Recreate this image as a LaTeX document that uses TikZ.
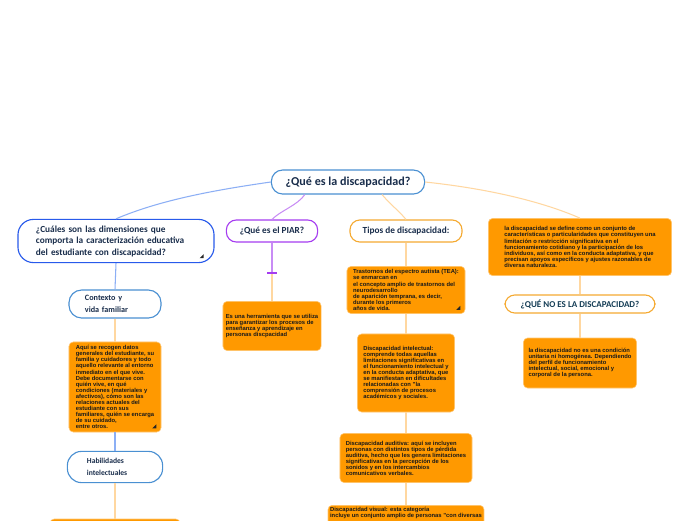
\documentclass[tikz,border=0pt]{standalone}
\usepackage{fontspec}
\setmainfont{Liberation Sans}
\newfontfamily\headfont{Carlito}
\usetikzlibrary{calc}
\begin{document}
\begin{tikzpicture}[
  x=0.025cm, y=-0.025cm,
  topic/.style={draw=#1, line width=0.8pt, fill=white, rounded corners=7pt, text=headink, inner sep=2pt},
  head/.style={font=\headfont\bfseries\fontsize{6.6}{8.2}\selectfont},
  note/.style={fill=kfill, draw=kfill!55!white, line width=0.4pt, rounded corners=3pt,
    text=black!90, align=left, inner sep=2pt, font=\bfseries\fontsize{4.15}{4.3}\selectfont},
  link/.style={draw=#1, line width=0.75pt},
  foldmark/.style={fill=black!85}
]
\definecolor{hblue}{RGB}{74,144,210}
\definecolor{dblue}{RGB}{40,90,235}
\definecolor{kpurp}{RGB}{165,60,240}
\definecolor{kora}{RGB}{245,170,50}
\definecolor{kfill}{RGB}{255,153,0}
\definecolor{lblue}{RGB}{140,175,245}
\definecolor{lpurp}{RGB}{200,140,245}
\definecolor{lpeach}{RGB}{255,215,160}
\definecolor{headink}{RGB}{25,45,75}

\fill[white] (0,0) rectangle (696,520);
\useasboundingbox (0,0) rectangle (696,520);
\clip (0,0) rectangle (696,520);

% main question
\node[topic=hblue, minimum width=3.83cm, minimum height=0.6cm, rounded corners=8pt,
  font=\headfont\bfseries\fontsize{8.6}{10}\selectfont] (root) at (348,182) {¿Qué es la discapacidad?};

% first level
\node[topic=dblue, head, minimum width=4.9cm, minimum height=1.08cm, rounded corners=11pt,
  align=left, text width=4.0cm] (dims) at (116,241)
  {¿Cuáles son las dimensiones que\\comporta la caracterización educativa\\del estudiante con discapacidad?};
\node[topic=kpurp, head, minimum width=2.28cm, minimum height=0.55cm] (piar) at (272,231) {¿Qué es el PIAR?};
\node[topic=kora, head, minimum width=2.8cm, minimum height=0.55cm] (tipos) at (406,231) {Tipos de discapacidad:};
\node[note, minimum width=4.58cm, minimum height=1.43cm] (defbox) at (580,247)
  { la discapacidad se define como un conjunto de\\características o particularidades que constituyen una\\limitación o restricción significativa en el\\funcionamiento cotidiano y la participación de los\\individuos, así como en la conducta adaptativa, y que\\precisan apoyos específicos y ajustes razonables de\\diversa naturaleza.};

% dimensiones
\node[topic=hblue, minimum width=2.3cm, minimum height=0.7cm, rounded corners=9pt, align=left,
  text width=1.5cm, font=\headfont\bfseries\fontsize{5.8}{8.5}\selectfont] (ctx) at (115,304) {Contexto y\\vida familiar};
\node[note, minimum width=2.3cm, minimum height=2.25cm] (ctxtext) at (115,387)
  {Aquí se recogen datos\\generales del estudiante, su\\familia y cuidadores y todo\\aquello relevante al entorno\\inmediato en el que vive.\\Debe documentarse con\\quién vive, en qué\\condiciones (materiales y\\afectivos), cómo son las\\relaciones actuales del\\estudiante con sus\\familiares, quién se encarga\\de su cuidado,\\entre otros.};
\node[topic=hblue, minimum width=2.38cm, minimum height=0.78cm, rounded corners=10pt, align=left,
  text width=1.4cm, font=\headfont\bfseries\fontsize{5.4}{8.5}\selectfont] (habil) at (115,467) {Habilidades\\intelectuales};
\node[note, minimum width=3.25cm, minimum height=1.1cm] (habiltext) at (115,541) {};

% PIAR
\coordinate (piarjoin) at (272,273);
\node[note, minimum width=2.38cm, minimum height=1.23cm] (piartext) at (272,326)
  {Es una herramienta que se utiliza\\para  garantizar los procesos de\\enseñanza y aprendizaje  en\\personas discpacidad};

% tipos
\node[note, minimum width=2.95cm, minimum height=1.18cm] (tea) at (406,290)
  {Trastornos del espectro autista (TEA):\\se enmarcan en\\el concepto amplio de trastornos del\\neurodesarrollo\\de aparición temprana, es decir,\\durante los primeros\\años de vida.};
\node[note, minimum width=2.43cm, minimum height=1.95cm] (intel) at (406,373)
  {Discapacidad intelectual:\\comprende todas aquellas\\limitaciones significativas en\\el funcionamiento intelectual y\\en la conducta adaptativa, que\\se manifiestan en dificultades\\relacionadas con "la\\comprensión de procesos\\académicos y sociales.};
\node[note, minimum width=3.3cm, minimum height=1.23cm] (audit) at (406,458)
  { Discapacidad auditiva: aquí se incluyen\\personas con distintos tipos de pérdida\\auditiva, hecho que les genera limitaciones\\significativas en la percepción de los\\sonidos y en los intercambios\\comunicativos  verbales.};
\node[note, minimum width=3.8cm, anchor=north, inner sep=1.5pt, text depth=20pt] (visual) at (406,505)
  {Discapacidad visual: esta categoría\\incluye un conjunto amplio de personas "con diversas};

% que no es
\node[topic=kora, minimum width=3.75cm, minimum height=0.45cm, rounded corners=7pt, text=headink!80!teal,
  font=\headfont\bfseries\fontsize{6.4}{8}\selectfont] (queno) at (580,304) {¿QUÉ NO ES LA DISCAPACIDAD?};
\node[note, minimum width=2.83cm, minimum height=1.25cm] (quenotext) at (580,363)
  { la discapacidad no es una condición\\unitaria ni homogénea. Dependiendo\\del perfil de funcionamiento\\intelectual, social, emocional y\\corporal de la persona.};

% connectors
\draw[link=lblue] (root.west) .. controls (215,190) and (160,200) .. (dims.north);
\draw[link=lpurp] ($(root.south west)!0.22!(root.south east)$) .. controls (298,205) and (280,211) .. (piar.north);
\draw[link=lpeach] ($(root.south west)!0.72!(root.south east)$) .. controls (390,204) and (400,212) .. (tipos.north);
\draw[link=lpeach] (root.east) .. controls (500,190) and (550,205) .. (defbox.north);

\draw[link=lblue] (dims.south) -- (ctx.north);
\draw[link=lpeach] (ctx.south) -- (ctxtext.north);
\draw[link=lblue] (ctxtext.south) -- (habil.north);
\draw[link=lpeach] (habil.south) -- (habiltext.north);

\draw[link=lpurp] (piar.south) -- (piarjoin);
\draw[link=lpeach] (piarjoin) -- (piartext.north);
\draw[kpurp, line width=1.2pt] ($(piarjoin)+(-5,0)$) -- ($(piarjoin)+(5,0)$);

\draw[link=lpeach] (tipos.south) -- (tea.north);
\draw[link=lpeach] (tea.south) -- (intel.north);
\draw[link=lpeach] (intel.south) -- (audit.north);
\draw[link=lpeach] (audit.south) -- (visual.north);

\draw[link=lpeach] (defbox.south) -- (queno.north);
\draw[link=lpeach] (queno.south) -- (quenotext.north);

% collapsed markers
\foreach \n/\dx/\dy in {dims/11/5, ctxtext/5/4, tea/5/4} {
  \fill[foldmark] ($(\n.south east)+(-\dx-4,-\dy)$) -- ++(4,0) -- ++(0,-4) -- cycle;
}
\end{tikzpicture}
\end{document}
